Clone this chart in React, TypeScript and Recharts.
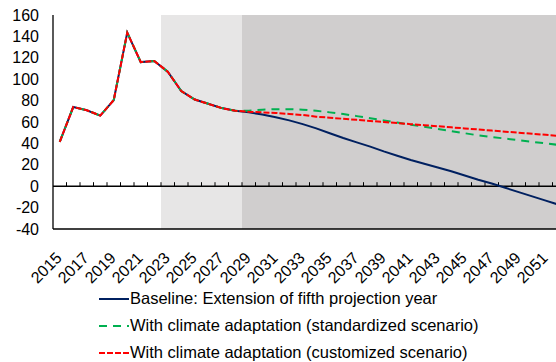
import {
  ComposedChart,
  Legend,
  Line,
  ReferenceArea,
  ReferenceLine,
  XAxis,
  YAxis,
} from "recharts";

const years = [
  "2015", "2016", "2017", "2018", "2019", "2020", "2021", "2022", "2023", "2024",
  "2025", "2026", "2027", "2028", "2029", "2030", "2031", "2032", "2033", "2034",
  "2035", "2036", "2037", "2038", "2039", "2040", "2041", "2042", "2043", "2044",
  "2045", "2046", "2047", "2048", "2049", "2050", "2051", "2052",
];

// 2015-2028, shared by all three series
const history = [41.5, 74, 71, 66, 80.5, 143.5, 116, 117, 107, 89, 81, 77, 73, 70.5];

// 2029-2052
const baselineProj = [
  69, 67, 64.5, 61.5, 58, 54, 49.5, 45, 41, 37, 32.5, 28.5, 24.5, 21, 17.5, 14,
  10, 6, 2.5, -1.5, -5.5, -9.5, -13.5, -17.5,
];
const standardProj = [
  70.5, 71.5, 72, 72, 71.5, 70.5, 69, 67.5, 65.5, 63.5, 61.5, 59.5, 57.5, 55.5,
  53.5, 51.5, 49.5, 47.5, 46, 44.5, 43, 41.5, 40, 38.5,
];
const customProj = [
  69.5, 69, 68.5, 67.5, 66.5, 65, 64, 63, 62, 61, 60, 59, 58, 57, 56, 55, 54, 53,
  52, 51, 50, 49, 48, 47,
];

const yTicks = [-40, -20, 0, 20, 40, 60, 80, 100, 120, 140, 160];

const seriesInfo = [
  { key: "baseline", name: "Baseline: Extension of fifth projection year", color: "#002060", dash: undefined },
  { key: "standard", name: "With climate adaptation (standardized scenario)", color: "#00b050", dash: "8 6" },
  { key: "custom", name: "With climate adaptation (customized scenario)", color: "#ff0000", dash: "6 2" },
];

const pick = (proj: number[], i: number) =>
  i < history.length ? history[i] : proj[i - history.length];

const data = years.map((year, i) => ({
  year,
  baseline: pick(baselineProj, i),
  standard: pick(standardProj, i),
  custom: pick(customProj, i),
}));

const FONT = "'Liberation Sans', Arial, sans-serif";

function YearTick(props: any) {
  const { x, y, payload } = props;
  return (
    <g transform={`translate(${x + 3},${y + 22}) rotate(-45)`}>
      <text x={0} y={0} textAnchor="end" fill="#000" fontSize={16} fontFamily={FONT}>
        {payload.value}
      </text>
    </g>
  );
}

// zero line with small upward tick marks between categories
function ZeroAxis(props: any) {
  const { x1, x2, y1 } = props;
  const step = (x2 - x1) / years.length;
  return (
    <g>
      <line x1={x1} y1={y1} x2={x2} y2={y1} stroke="#000" strokeWidth={1.5} />
      {years.map((yr, i) => (
        <line
          key={yr}
          x1={x1 + step * (i + 1)}
          x2={x1 + step * (i + 1)}
          y1={y1}
          y2={y1 - 4}
          stroke="#000"
          strokeWidth={1}
        />
      ))}
    </g>
  );
}

function LegendContent() {
  return (
    <div style={{ fontFamily: FONT, fontSize: 16.5, color: "#000" }}>
      {seriesInfo.map((s) => (
        <div key={s.key} style={{ display: "flex", alignItems: "center", height: 27, whiteSpace: "nowrap" }}>
          <svg width={30} height={27} style={{ marginRight: 1 }}>
            <line x1={0} x2={30} y1={14} y2={14} stroke={s.color} strokeWidth={2} strokeDasharray={s.dash} />
          </svg>
          <span>{s.name}</span>
        </div>
      ))}
    </div>
  );
}

export default function App() {
  return (
    <div
      style={{
        position: "absolute",
        left: 0,
        top: 0,
        width: 556,
        height: 362,
        overflow: "hidden",
        background: "#fff",
        fontFamily: FONT,
      }}
    >
      <ComposedChart
        width={566}
        height={362}
        data={data}
        margin={{ top: 15, right: 0, bottom: 93, left: 0 }}
      >
        <ReferenceArea x1="2023" x2="2028" fill="#e7e6e6" fillOpacity={1} ifOverflow="visible" />
        <ReferenceArea x1="2029" fill="#d0cece" fillOpacity={1} ifOverflow="visible" />
        <XAxis
          dataKey="year"
          scale="band"
          interval={1}
          height={40}
          tickLine={false}
          axisLine={{ stroke: "#000", strokeWidth: 1.3 }}
          tick={<YearTick />}
        />
        <XAxis
          xAxisId="top"
          dataKey="year"
          orientation="top"
          scale="band"
          height={0}
          tick={false}
          tickLine={false}
          axisLine={{ stroke: "#000", strokeWidth: 1.3 }}
        />
        <YAxis
          width={53}
          domain={[-40, 160]}
          ticks={yTicks}
          interval={0}
          tickLine={false}
          tickMargin={8}
          axisLine={{ stroke: "#000", strokeWidth: 1.3 }}
          tick={{ fill: "#000", fontSize: 16, fontFamily: FONT }}
        />
        <ReferenceLine y={0} shape={<ZeroAxis />} />
        {seriesInfo.map((s) => (
          <Line
            key={s.key}
            type="linear"
            dataKey={s.key}
            name={s.name}
            stroke={s.color}
            strokeWidth={2}
            strokeDasharray={s.dash}
            dot={false}
            activeDot={false}
            isAnimationActive={false}
          />
        ))}
        <Legend
          layout="vertical"
          align="center"
          verticalAlign="middle"
          wrapperStyle={{ left: 99, top: 285, right: "auto", bottom: "auto", width: "auto" }}
          content={<LegendContent />}
        />
      </ComposedChart>
    </div>
  );
}
